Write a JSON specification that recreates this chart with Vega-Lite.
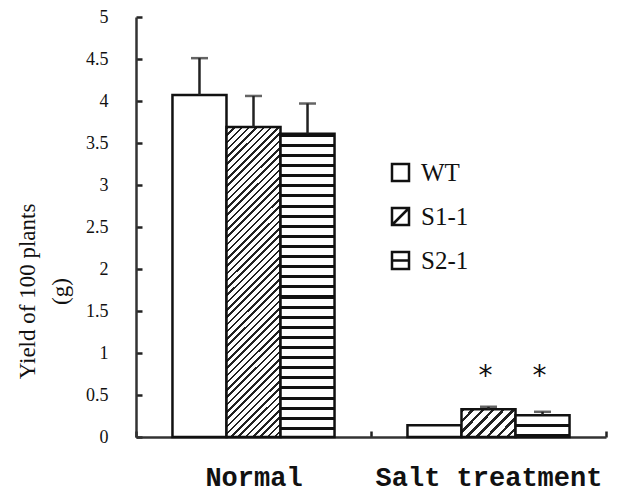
{
  "$schema": "https://vega.github.io/schema/vega-lite/v6.json",
  "width": 470,
  "height": 420,
  "autosize": {"type": "none"},
  "padding": {"left": 136, "top": 17, "right": 15, "bottom": 55},
  "background": "white",
  "config": {"view": {"stroke": null}, "font": "Liberation Serif"},
  "data": {
    "values": [
      {"condition": "Normal", "genotype": "WT", "value": 4.07, "upper": 4.51, "sig": ""},
      {"condition": "Normal", "genotype": "S1-1", "value": 3.69, "upper": 4.06, "sig": ""},
      {"condition": "Normal", "genotype": "S2-1", "value": 3.61, "upper": 3.97, "sig": ""},
      {"condition": "Salt treatment", "genotype": "WT", "value": 0.14, "upper": null, "sig": ""},
      {"condition": "Salt treatment", "genotype": "S1-1", "value": 0.33, "upper": 0.36, "sig": "*"},
      {"condition": "Salt treatment", "genotype": "S2-1", "value": 0.26, "upper": 0.30, "sig": "*"}
    ]
  },
  "encoding": {
    "x": {
      "field": "condition", "type": "nominal", "sort": ["Normal", "Salt treatment"],
      "scale": {"paddingInner": 0, "paddingOuter": 0},
      "axis": {
        "title": null, "labelAngle": 0, "labelFont": "Liberation Mono", "labelFontSize": 27, "labelFontWeight": "bold",
        "labelColor": "#111", "labelPadding": 27, "labelLimit": 0, "ticks": false, "tickBand": "extent",
        "grid": true, "gridDash": [0, 414, 6, 2000], "gridColor": "#222", "gridWidth": 2.5, "gridOpacity": 1,
        "domainColor": "#333", "domainWidth": 2.5
      }
    },
    "xOffset": {"field": "genotype", "type": "nominal", "sort": ["WT", "S1-1", "S2-1"], "scale": {"paddingInner": 0, "paddingOuter": 0.675}}
  },
  "layer": [
    {
      "mark": {"type": "point", "opacity": 0, "filled": false, "color": "#111", "strokeWidth": 2},
      "encoding": {
        "y": {
          "field": "value", "type": "quantitative", "scale": {"domain": [0, 5]},
          "axis": {
            "values": [0, 0.5, 1, 1.5, 2, 2.5, 3, 3.5, 4, 4.5, 5], "format": "~g",
            "grid": true, "gridDash": [6, 2000], "gridColor": "#222", "gridWidth": 2.5, "gridOpacity": 1,
            "labelFont": "Liberation Serif", "labelFontSize": 18, "labelColor": "#111", "labelPadding": 28,
            "ticks": false, "domainColor": "#333", "domainWidth": 2.5,
            "title": ["Yield of 100 plants", "(g)"], "titleFont": "Liberation Serif", "titleFontSize": 23,
            "titleFontWeight": "normal", "titleColor": "#111", "titleX": -120, "titleY": 274, "titleAlign": "center",
            "titleBaseline": "top", "titleLineHeight": 33, "titleAngle": 270
          }
        },
        "shape": {
          "field": "genotype", "type": "nominal",
          "scale": {
            "domain": ["WT", "S1-1", "S2-1"],
            "range": ["M-1,-1H1V1H-1Z", "M-1,-1H1V1H-1Z M-1,1L1,-1", "M-1,-1H1V1H-1Z M-1,0H1"]
          },
          "legend": {
            "title": null, "orient": "none", "legendX": 252, "legendY": 143,
            "symbolSize": 289, "symbolStrokeColor": "#111", "symbolStrokeWidth": 2.5, "symbolOpacity": 1,
            "labelFont": "Liberation Serif", "labelFontSize": 25, "labelColor": "#111", "labelOffset": 8, "rowPadding": 17
          }
        }
      }
    },
    {
      "transform": [{"filter": "datum.genotype == 'WT'"}],
      "mark": {"type": "bar", "stroke": "#111", "strokeWidth": 2.5, "fill": "#ffffff"},
      "encoding": {"y": {"field": "value", "type": "quantitative"}}
    },
    {
      "transform": [{"filter": "datum.genotype == 'S1-1' && datum.condition == 'Normal'"}],
      "mark": {"type": "bar", "stroke": "#111", "strokeWidth": 2.5,
        "fill": {"gradient": "linear", "x1": 0, "y1": 0, "x2": 0.198, "y2": 1.14, "stops": [
                {"offset":0,"color":"#222"},{"offset":0.007,"color":"#222"},{"offset":0.007,"color":"#fff"},{"offset":0.02,"color":"#fff"},
                {"offset":0.02,"color":"#222"},{"offset":0.027,"color":"#222"},{"offset":0.027,"color":"#fff"},{"offset":0.04,"color":"#fff"},
                {"offset":0.04,"color":"#222"},{"offset":0.047,"color":"#222"},{"offset":0.047,"color":"#fff"},{"offset":0.06,"color":"#fff"},
                {"offset":0.06,"color":"#222"},{"offset":0.067,"color":"#222"},{"offset":0.067,"color":"#fff"},{"offset":0.08,"color":"#fff"},
                {"offset":0.08,"color":"#222"},{"offset":0.087,"color":"#222"},{"offset":0.087,"color":"#fff"},{"offset":0.10,"color":"#fff"},
                {"offset":0.10,"color":"#222"},{"offset":0.107,"color":"#222"},{"offset":0.107,"color":"#fff"},{"offset":0.12,"color":"#fff"},
                {"offset":0.12,"color":"#222"},{"offset":0.127,"color":"#222"},{"offset":0.127,"color":"#fff"},{"offset":0.14,"color":"#fff"},
                {"offset":0.14,"color":"#222"},{"offset":0.147,"color":"#222"},{"offset":0.147,"color":"#fff"},{"offset":0.16,"color":"#fff"},
                {"offset":0.16,"color":"#222"},{"offset":0.167,"color":"#222"},{"offset":0.167,"color":"#fff"},{"offset":0.18,"color":"#fff"},
                {"offset":0.18,"color":"#222"},{"offset":0.187,"color":"#222"},{"offset":0.187,"color":"#fff"},{"offset":0.20,"color":"#fff"},
                {"offset":0.20,"color":"#222"},{"offset":0.207,"color":"#222"},{"offset":0.207,"color":"#fff"},{"offset":0.22,"color":"#fff"},
                {"offset":0.22,"color":"#222"},{"offset":0.227,"color":"#222"},{"offset":0.227,"color":"#fff"},{"offset":0.24,"color":"#fff"},
                {"offset":0.24,"color":"#222"},{"offset":0.247,"color":"#222"},{"offset":0.247,"color":"#fff"},{"offset":0.26,"color":"#fff"},
                {"offset":0.26,"color":"#222"},{"offset":0.267,"color":"#222"},{"offset":0.267,"color":"#fff"},{"offset":0.28,"color":"#fff"},
                {"offset":0.28,"color":"#222"},{"offset":0.287,"color":"#222"},{"offset":0.287,"color":"#fff"},{"offset":0.30,"color":"#fff"},
                {"offset":0.30,"color":"#222"},{"offset":0.307,"color":"#222"},{"offset":0.307,"color":"#fff"},{"offset":0.32,"color":"#fff"},
                {"offset":0.32,"color":"#222"},{"offset":0.327,"color":"#222"},{"offset":0.327,"color":"#fff"},{"offset":0.34,"color":"#fff"},
                {"offset":0.34,"color":"#222"},{"offset":0.347,"color":"#222"},{"offset":0.347,"color":"#fff"},{"offset":0.36,"color":"#fff"},
                {"offset":0.36,"color":"#222"},{"offset":0.367,"color":"#222"},{"offset":0.367,"color":"#fff"},{"offset":0.38,"color":"#fff"},
                {"offset":0.38,"color":"#222"},{"offset":0.387,"color":"#222"},{"offset":0.387,"color":"#fff"},{"offset":0.40,"color":"#fff"},
                {"offset":0.40,"color":"#222"},{"offset":0.407,"color":"#222"},{"offset":0.407,"color":"#fff"},{"offset":0.42,"color":"#fff"},
                {"offset":0.42,"color":"#222"},{"offset":0.427,"color":"#222"},{"offset":0.427,"color":"#fff"},{"offset":0.44,"color":"#fff"},
                {"offset":0.44,"color":"#222"},{"offset":0.447,"color":"#222"},{"offset":0.447,"color":"#fff"},{"offset":0.46,"color":"#fff"},
                {"offset":0.46,"color":"#222"},{"offset":0.467,"color":"#222"},{"offset":0.467,"color":"#fff"},{"offset":0.48,"color":"#fff"},
                {"offset":0.48,"color":"#222"},{"offset":0.487,"color":"#222"},{"offset":0.487,"color":"#fff"},{"offset":0.50,"color":"#fff"},
                {"offset":0.50,"color":"#222"},{"offset":0.507,"color":"#222"},{"offset":0.507,"color":"#fff"},{"offset":0.52,"color":"#fff"},
                {"offset":0.52,"color":"#222"},{"offset":0.527,"color":"#222"},{"offset":0.527,"color":"#fff"},{"offset":0.54,"color":"#fff"},
                {"offset":0.54,"color":"#222"},{"offset":0.547,"color":"#222"},{"offset":0.547,"color":"#fff"},{"offset":0.56,"color":"#fff"},
                {"offset":0.56,"color":"#222"},{"offset":0.567,"color":"#222"},{"offset":0.567,"color":"#fff"},{"offset":0.58,"color":"#fff"},
                {"offset":0.58,"color":"#222"},{"offset":0.587,"color":"#222"},{"offset":0.587,"color":"#fff"},{"offset":0.60,"color":"#fff"},
                {"offset":0.60,"color":"#222"},{"offset":0.607,"color":"#222"},{"offset":0.607,"color":"#fff"},{"offset":0.62,"color":"#fff"},
                {"offset":0.62,"color":"#222"},{"offset":0.627,"color":"#222"},{"offset":0.627,"color":"#fff"},{"offset":0.64,"color":"#fff"},
                {"offset":0.64,"color":"#222"},{"offset":0.647,"color":"#222"},{"offset":0.647,"color":"#fff"},{"offset":0.66,"color":"#fff"},
                {"offset":0.66,"color":"#222"},{"offset":0.667,"color":"#222"},{"offset":0.667,"color":"#fff"},{"offset":0.68,"color":"#fff"},
                {"offset":0.68,"color":"#222"},{"offset":0.687,"color":"#222"},{"offset":0.687,"color":"#fff"},{"offset":0.70,"color":"#fff"},
                {"offset":0.70,"color":"#222"},{"offset":0.707,"color":"#222"},{"offset":0.707,"color":"#fff"},{"offset":0.72,"color":"#fff"},
                {"offset":0.72,"color":"#222"},{"offset":0.727,"color":"#222"},{"offset":0.727,"color":"#fff"},{"offset":0.74,"color":"#fff"},
                {"offset":0.74,"color":"#222"},{"offset":0.747,"color":"#222"},{"offset":0.747,"color":"#fff"},{"offset":0.76,"color":"#fff"},
                {"offset":0.76,"color":"#222"},{"offset":0.767,"color":"#222"},{"offset":0.767,"color":"#fff"},{"offset":0.78,"color":"#fff"},
                {"offset":0.78,"color":"#222"},{"offset":0.787,"color":"#222"},{"offset":0.787,"color":"#fff"},{"offset":0.80,"color":"#fff"},
                {"offset":0.80,"color":"#222"},{"offset":0.807,"color":"#222"},{"offset":0.807,"color":"#fff"},{"offset":0.82,"color":"#fff"},
                {"offset":0.82,"color":"#222"},{"offset":0.827,"color":"#222"},{"offset":0.827,"color":"#fff"},{"offset":0.84,"color":"#fff"},
                {"offset":0.84,"color":"#222"},{"offset":0.847,"color":"#222"},{"offset":0.847,"color":"#fff"},{"offset":0.86,"color":"#fff"},
                {"offset":0.86,"color":"#222"},{"offset":0.867,"color":"#222"},{"offset":0.867,"color":"#fff"},{"offset":0.88,"color":"#fff"},
                {"offset":0.88,"color":"#222"},{"offset":0.887,"color":"#222"},{"offset":0.887,"color":"#fff"},{"offset":0.90,"color":"#fff"},
                {"offset":0.90,"color":"#222"},{"offset":0.907,"color":"#222"},{"offset":0.907,"color":"#fff"},{"offset":0.92,"color":"#fff"},
                {"offset":0.92,"color":"#222"},{"offset":0.927,"color":"#222"},{"offset":0.927,"color":"#fff"},{"offset":0.94,"color":"#fff"},
                {"offset":0.94,"color":"#222"},{"offset":0.947,"color":"#222"},{"offset":0.947,"color":"#fff"},{"offset":0.96,"color":"#fff"},
                {"offset":0.96,"color":"#222"},{"offset":0.967,"color":"#222"},{"offset":0.967,"color":"#fff"},{"offset":0.98,"color":"#fff"},
                {"offset":0.98,"color":"#222"},{"offset":0.987,"color":"#222"},{"offset":0.987,"color":"#fff"},{"offset":1,"color":"#fff"}
        ]}},
      "encoding": {"y": {"field": "value", "type": "quantitative"}}
    },
    {
      "transform": [{"filter": "datum.genotype == 'S1-1' && datum.condition == 'Salt treatment'"}],
      "mark": {"type": "bar", "stroke": "#111", "strokeWidth": 2.5,
        "fill": {"gradient": "linear", "x1": 0, "y1": 0, "x2": 1.2, "y2": 0.6, "stops": [
                {"offset":0,"color":"#222"},{"offset":0.045,"color":"#222"},{"offset":0.045,"color":"#fff"},{"offset":0.125,"color":"#fff"},
                {"offset":0.125,"color":"#222"},{"offset":0.17,"color":"#222"},{"offset":0.17,"color":"#fff"},{"offset":0.25,"color":"#fff"},
                {"offset":0.25,"color":"#222"},{"offset":0.295,"color":"#222"},{"offset":0.295,"color":"#fff"},{"offset":0.375,"color":"#fff"},
                {"offset":0.375,"color":"#222"},{"offset":0.42,"color":"#222"},{"offset":0.42,"color":"#fff"},{"offset":0.5,"color":"#fff"},
                {"offset":0.5,"color":"#222"},{"offset":0.545,"color":"#222"},{"offset":0.545,"color":"#fff"},{"offset":0.625,"color":"#fff"},
                {"offset":0.625,"color":"#222"},{"offset":0.67,"color":"#222"},{"offset":0.67,"color":"#fff"},{"offset":0.75,"color":"#fff"},
                {"offset":0.75,"color":"#222"},{"offset":0.795,"color":"#222"},{"offset":0.795,"color":"#fff"},{"offset":0.875,"color":"#fff"},
                {"offset":0.875,"color":"#222"},{"offset":0.92,"color":"#222"},{"offset":0.92,"color":"#fff"},{"offset":1,"color":"#fff"}
        ]}},
      "encoding": {"y": {"field": "value", "type": "quantitative"}}
    },
    {
      "transform": [{"filter": "datum.genotype == 'S2-1' && datum.condition == 'Normal'"}],
      "mark": {"type": "bar", "stroke": "#111", "strokeWidth": 2.5,
        "fill": {"gradient": "linear", "x1": 0, "y1": 0, "x2": 0, "y2": 1, "stops": [
                {"offset":0,"color":"#111"},{"offset":0.01,"color":"#111"},{"offset":0.01,"color":"#fff"},{"offset":0.0333,"color":"#fff"},
                {"offset":0.0333,"color":"#111"},{"offset":0.0433,"color":"#111"},{"offset":0.0433,"color":"#fff"},{"offset":0.0667,"color":"#fff"},
                {"offset":0.0667,"color":"#111"},{"offset":0.0767,"color":"#111"},{"offset":0.0767,"color":"#fff"},{"offset":0.1,"color":"#fff"},
                {"offset":0.1,"color":"#111"},{"offset":0.11,"color":"#111"},{"offset":0.11,"color":"#fff"},{"offset":0.1333,"color":"#fff"},
                {"offset":0.1333,"color":"#111"},{"offset":0.1433,"color":"#111"},{"offset":0.1433,"color":"#fff"},{"offset":0.1667,"color":"#fff"},
                {"offset":0.1667,"color":"#111"},{"offset":0.1767,"color":"#111"},{"offset":0.1767,"color":"#fff"},{"offset":0.2,"color":"#fff"},
                {"offset":0.2,"color":"#111"},{"offset":0.21,"color":"#111"},{"offset":0.21,"color":"#fff"},{"offset":0.2333,"color":"#fff"},
                {"offset":0.2333,"color":"#111"},{"offset":0.2433,"color":"#111"},{"offset":0.2433,"color":"#fff"},{"offset":0.2667,"color":"#fff"},
                {"offset":0.2667,"color":"#111"},{"offset":0.2767,"color":"#111"},{"offset":0.2767,"color":"#fff"},{"offset":0.3,"color":"#fff"},
                {"offset":0.3,"color":"#111"},{"offset":0.31,"color":"#111"},{"offset":0.31,"color":"#fff"},{"offset":0.3333,"color":"#fff"},
                {"offset":0.3333,"color":"#111"},{"offset":0.3433,"color":"#111"},{"offset":0.3433,"color":"#fff"},{"offset":0.3667,"color":"#fff"},
                {"offset":0.3667,"color":"#111"},{"offset":0.3767,"color":"#111"},{"offset":0.3767,"color":"#fff"},{"offset":0.4,"color":"#fff"},
                {"offset":0.4,"color":"#111"},{"offset":0.41,"color":"#111"},{"offset":0.41,"color":"#fff"},{"offset":0.4333,"color":"#fff"},
                {"offset":0.4333,"color":"#111"},{"offset":0.4433,"color":"#111"},{"offset":0.4433,"color":"#fff"},{"offset":0.4667,"color":"#fff"},
                {"offset":0.4667,"color":"#111"},{"offset":0.4767,"color":"#111"},{"offset":0.4767,"color":"#fff"},{"offset":0.5,"color":"#fff"},
                {"offset":0.5,"color":"#111"},{"offset":0.51,"color":"#111"},{"offset":0.51,"color":"#fff"},{"offset":0.5333,"color":"#fff"},
                {"offset":0.5333,"color":"#111"},{"offset":0.5433,"color":"#111"},{"offset":0.5433,"color":"#fff"},{"offset":0.5667,"color":"#fff"},
                {"offset":0.5667,"color":"#111"},{"offset":0.5767,"color":"#111"},{"offset":0.5767,"color":"#fff"},{"offset":0.6,"color":"#fff"},
                {"offset":0.6,"color":"#111"},{"offset":0.61,"color":"#111"},{"offset":0.61,"color":"#fff"},{"offset":0.6333,"color":"#fff"},
                {"offset":0.6333,"color":"#111"},{"offset":0.6433,"color":"#111"},{"offset":0.6433,"color":"#fff"},{"offset":0.6667,"color":"#fff"},
                {"offset":0.6667,"color":"#111"},{"offset":0.6767,"color":"#111"},{"offset":0.6767,"color":"#fff"},{"offset":0.7,"color":"#fff"},
                {"offset":0.7,"color":"#111"},{"offset":0.71,"color":"#111"},{"offset":0.71,"color":"#fff"},{"offset":0.7333,"color":"#fff"},
                {"offset":0.7333,"color":"#111"},{"offset":0.7433,"color":"#111"},{"offset":0.7433,"color":"#fff"},{"offset":0.7667,"color":"#fff"},
                {"offset":0.7667,"color":"#111"},{"offset":0.7767,"color":"#111"},{"offset":0.7767,"color":"#fff"},{"offset":0.8,"color":"#fff"},
                {"offset":0.8,"color":"#111"},{"offset":0.81,"color":"#111"},{"offset":0.81,"color":"#fff"},{"offset":0.8333,"color":"#fff"},
                {"offset":0.8333,"color":"#111"},{"offset":0.8433,"color":"#111"},{"offset":0.8433,"color":"#fff"},{"offset":0.8667,"color":"#fff"},
                {"offset":0.8667,"color":"#111"},{"offset":0.8767,"color":"#111"},{"offset":0.8767,"color":"#fff"},{"offset":0.9,"color":"#fff"},
                {"offset":0.9,"color":"#111"},{"offset":0.91,"color":"#111"},{"offset":0.91,"color":"#fff"},{"offset":0.9333,"color":"#fff"},
                {"offset":0.9333,"color":"#111"},{"offset":0.9433,"color":"#111"},{"offset":0.9433,"color":"#fff"},{"offset":0.9667,"color":"#fff"},
                {"offset":0.9667,"color":"#111"},{"offset":0.9767,"color":"#111"},{"offset":0.9767,"color":"#fff"},{"offset":1,"color":"#fff"}
        ]}},
      "encoding": {"y": {"field": "value", "type": "quantitative"}}
    },
    {
      "transform": [{"filter": "datum.genotype == 'S2-1' && datum.condition == 'Salt treatment'"}],
      "mark": {"type": "bar", "stroke": "#111", "strokeWidth": 2.5,
        "fill": {"gradient": "linear", "x1": 0, "y1": 0, "x2": 0, "y2": 1, "stops": [
                {"offset":0,"color":"#fff"},{"offset":0.4,"color":"#fff"},{"offset":0.4,"color":"#111"},{"offset":0.52,"color":"#111"},
                {"offset":0.52,"color":"#fff"},{"offset":0.85,"color":"#fff"},{"offset":0.85,"color":"#111"},{"offset":1,"color":"#111"}
        ]}},
      "encoding": {"y": {"field": "value", "type": "quantitative"}}
    },
    {
      "transform": [{"filter": "datum.upper != null"}],
      "mark": {"type": "rule", "strokeWidth": 2.5, "color": "#222"},
      "encoding": {
        "y": {"field": "value", "type": "quantitative"},
        "y2": {"field": "upper"}
      }
    },
    {
      "transform": [{"filter": "datum.upper != null"}],
      "mark": {"type": "tick", "thickness": 2.5, "size": 17, "color": "#222"},
      "encoding": {
        "y": {"field": "upper", "type": "quantitative"}
      }
    },
    {
      "transform": [{"filter": "datum.sig == '*'"}],
      "mark": {"type": "text", "font": "DejaVu Sans", "fontSize": 28, "color": "#111", "baseline": "middle", "dy": 4, "dx": -3},
      "encoding": {
        "y": {"datum": 0.76, "type": "quantitative"},
        "text": {"field": "sig"}
      }
    }
  ]
}
